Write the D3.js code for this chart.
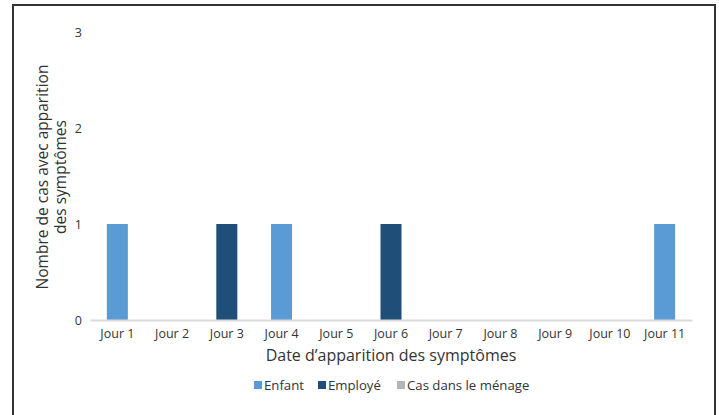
<!DOCTYPE html>
<html>
<head>
<meta charset="utf-8">
<script src="https://cdn.jsdelivr.net/npm/d3@7"></script>
<style>
  body { margin: 0; background: #fff; }
  svg { display: block; font-family: "Open Sans", Lato, sans-serif; }
</style>
</head>
<body>
<div id="chart"></div>
<script>
// Chart data
const days = ["Jour 1", "Jour 2", "Jour 3", "Jour 4", "Jour 5", "Jour 6", "Jour 7", "Jour 8", "Jour 9", "Jour 10", "Jour 11"];
const seriesNames = ["Enfant", "Employé", "Cas dans le ménage"];
const enfant = [1, 0, 0, 1, 0, 0, 0, 0, 0, 0, 1];
const employe = [0, 0, 1, 0, 0, 1, 0, 0, 0, 0, 0];
const menage = [0, 0, 0, 0, 0, 0, 0, 0, 0, 0, 0];
const yTicks = [0, 1, 2, 3];
const colors = ["#5b9bd5", "#1f4e79", "#b4b4b4"];

const width = 719, height = 415;
const font = "'Open Sans', Lato, sans-serif";
const svg = d3.select("#chart").append("svg")
  .attr("width", width)
  .attr("height", height);

// Outer frame (bottom edge runs off the page)
svg.append("rect")
  .attr("x", 13).attr("y", 5)
  .attr("width", 702).attr("height", 430)
  .attr("fill", "none")
  .attr("stroke", "#333")
  .attr("stroke-width", 2);

const x = d3.scaleBand().domain(days).range([90, 692]).paddingInner(0).paddingOuter(0);
const y = d3.scaleLinear().domain([0, 3]).range([320, 32]);

// Stack the series
const rows = days.map((d, i) => ({ day: d, Enfant: enfant[i], "Employé": employe[i], "Cas dans le ménage": menage[i] }));
const stacked = d3.stack().keys(seriesNames)(rows);

const barW = 21;
svg.append("g")
  .selectAll("g")
  .data(stacked)
  .enter()
  .append("g")
  .attr("fill", (d, i) => colors[i])
  .selectAll("rect")
  .data((d) => d.filter((v) => v[1] - v[0] > 0))
  .enter()
  .append("rect")
  .attr("x", (d) => x(d.data.day) + x.bandwidth() / 2 - barW / 2)
  .attr("y", (d) => y(d[1]))
  .attr("width", barW)
  .attr("height", (d) => y(d[0]) - y(d[1]));

// X axis
const xAxis = svg.append("g")
  .attr("transform", "translate(0,320)")
  .call(d3.axisBottom(x).tickSize(0).tickPadding(9));
xAxis.select(".domain").attr("stroke", "#d9d9d9").attr("stroke-width", 2);
xAxis.selectAll("text")
  .attr("font-family", font)
  .attr("font-size", "12.5px")
  .attr("fill", "#333");

// Y axis (labels only)
const yAxis = svg.append("g")
  .attr("transform", "translate(82,0)")
  .call(d3.axisLeft(y).tickValues(yTicks).tickFormat(d3.format("d")).tickSize(0).tickPadding(0));
yAxis.select(".domain").remove();
yAxis.selectAll("text")
  .attr("font-family", font)
  .attr("font-size", "12.5px")
  .attr("fill", "#333");

// Axis titles
svg.append("text")
  .attr("x", 391)
  .attr("y", 361)
  .attr("text-anchor", "middle")
  .attr("font-size", "16px")
  .attr("fill", "#333")
  .text("Date d’apparition des symptômes");

const yTitle = svg.append("text")
  .attr("transform", "translate(0,177) rotate(-90)")
  .attr("text-anchor", "middle")
  .attr("font-size", "15.5px")
  .attr("fill", "#333");
yTitle.append("tspan").attr("x", 0).attr("y", 48).text("Nombre de cas avec apparition");
yTitle.append("tspan").attr("x", 0).attr("y", 66).text("des symptômes");

// Legend
const legendX = [254, 318, 397];
const legend = svg.append("g").attr("class", "legend");
const item = legend.selectAll("g")
  .data(seriesNames)
  .enter()
  .append("g")
  .attr("transform", (d, i) => `translate(${legendX[i]},381)`);
item.append("rect")
  .attr("width", 8).attr("height", 8)
  .attr("fill", (d, i) => colors[i]);
item.append("text")
  .attr("x", 10)
  .attr("y", 8.5)
  .attr("font-size", "13.2px")
  .attr("fill", "#333")
  .text((d) => d);
</script>
</body>
</html>
